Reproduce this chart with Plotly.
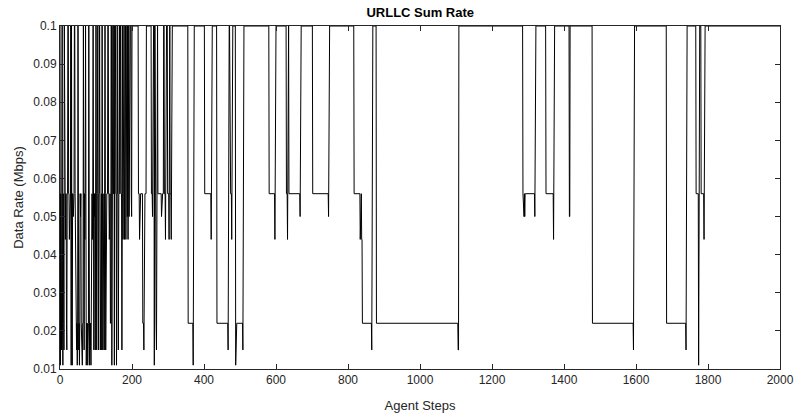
import numpy as np
import plotly.graph_objects as go

# Run-length description of the URLLC sum-rate trace (step where a new value starts, value in Mbps)
change_steps = [
    0, 1, 2, 3, 4, 5, 6, 7, 8, 9, 10, 11, 12, 13, 15, 16, 18, 19, 20, 22, 24, 26, 27, 30,
    31, 32, 33, 34, 35, 37, 38, 40, 42, 43, 44, 45, 46, 47, 48, 49, 50, 51, 52, 53, 54, 55,
    56, 57, 58, 59, 60, 61, 62, 63, 65, 66, 67, 68, 69, 70, 71, 72, 73, 74, 75, 76, 77, 78,
    80, 81, 82, 83, 84, 85, 86, 87, 88, 89, 90, 91, 92, 93, 94, 95, 96, 97, 98, 99, 100,
    101, 102, 103, 104, 105, 106, 107, 108, 110, 111, 112, 113, 114, 115, 116, 117, 118,
    119, 120, 121, 122, 123, 124, 125, 126, 127, 128, 129, 130, 133, 135, 137, 138, 140,
    142, 144, 145, 148, 150, 151, 152, 155, 157, 158, 160, 162, 163, 166, 168, 170, 172,
    173, 175, 176, 177, 178, 179, 180, 181, 182, 183, 184, 185, 186, 187, 188, 189, 190,
    192, 193, 195, 198, 199, 200, 218, 221, 222, 230, 233, 234, 235, 236, 240, 254, 257,
    258, 262, 263, 265, 268, 269, 272, 282, 283, 288, 290, 293, 294, 299, 303, 304, 306,
    309, 310,
    356, 370, 371, 402, 420, 421, 436, 467, 468, 472, 477, 478, 488, 489, 508, 509,
    581, 597, 598, 629, 632, 633, 636, 667, 668, 702, 746, 747,
    817, 834, 835, 836, 837, 838, 840, 866, 867, 879, 1106, 1108,
    1286, 1287, 1288, 1289, 1290, 1291, 1292, 1319, 1320, 1350, 1371, 1372, 1415, 1417,
    1479, 1593, 1594, 1685, 1739, 1740, 1767, 1774, 1775, 1781, 1789, 1790,
]
change_values = [
    0.1, 0.011, 0.056, 0.022, 0.015, 0.056, 0.1, 0.022, 0.011, 0.056, 0.022, 0.015, 0.1,
    0.056, 0.044, 0.056, 0.022, 0.015, 0.056, 0.1, 0.056, 0.044, 0.056, 0.1,
    0.011, 0.1, 0.022, 0.011, 0.056, 0.05, 0.056, 0.1, 0.056, 0.044, 0.056, 0.022, 0.015,
    0.022, 0.011, 0.022, 0.1, 0.022, 0.015, 0.022, 0.011, 0.022,
    0.056, 0.05, 0.056, 0.022, 0.015, 0.022, 0.011, 0.022, 0.1, 0.022, 0.015, 0.056, 0.044,
    0.056, 0.1, 0.022, 0.011, 0.022, 0.015, 0.022, 0.011, 0.022,
    0.1, 0.022, 0.011, 0.022, 0.015, 0.022, 0.011, 0.056, 0.015, 0.056, 0.044, 0.056, 0.1,
    0.056, 0.015, 0.056, 0.05, 0.056, 0.015, 0.056, 0.1,
    0.056, 0.015, 0.056, 0.05, 0.1, 0.056, 0.015, 0.056, 0.1, 0.056, 0.015, 0.056, 0.05,
    0.056, 0.015, 0.1, 0.056,
    0.015, 0.056, 0.05, 0.056, 0.015, 0.056, 0.1, 0.056, 0.015, 0.056, 0.05, 0.056, 0.1,
    0.056, 0.044, 0.056, 0.022,
    0.1, 0.011, 0.1, 0.056, 0.1, 0.011, 0.1, 0.056, 0.011, 0.1, 0.056, 0.015, 0.1, 0.056,
    0.1, 0.056, 0.015,
    0.1, 0.044, 0.1, 0.044, 0.1, 0.044, 0.1, 0.044, 0.1, 0.044, 0.1, 0.044, 0.1, 0.05, 0.1,
    0.044, 0.1,
    0.05, 0.1, 0.1, 0.056, 0.05, 0.1, 0.056, 0.044, 0.056, 0.022, 0.015, 0.056, 0.05, 0.056,
    0.1, 0.056, 0.05,
    0.1, 0.011, 0.1, 0.022, 0.015, 0.1, 0.056, 0.05, 0.056, 0.1, 0.056, 0.044, 0.1, 0.056,
    0.044, 0.1, 0.056,
    0.044, 0.1,
    0.022, 0.011, 0.1, 0.056, 0.044, 0.1, 0.022, 0.015, 0.1, 0.056, 0.044, 0.1, 0.011,
    0.022, 0.015, 0.1,
    0.056, 0.044, 0.1, 0.056, 0.044, 0.1, 0.056, 0.05, 0.1, 0.056, 0.05, 0.1,
    0.056, 0.044, 0.056, 0.044, 0.056, 0.044, 0.022, 0.015, 0.1, 0.022, 0.015, 0.1,
    0.056, 0.05, 0.056, 0.05, 0.056, 0.05, 0.056, 0.05, 0.1, 0.056, 0.044, 0.1, 0.05, 0.1,
    0.022, 0.015, 0.1, 0.022, 0.015, 0.1, 0.056, 0.011, 0.1, 0.056, 0.044, 0.1,
]
n_steps = 2000

x_tick_vals = [0, 200, 400, 600, 800, 1000, 1200, 1400, 1600, 1800, 2000]
y_tick_vals = [0.01, 0.02, 0.03, 0.04, 0.05, 0.06, 0.07, 0.08, 0.09, 0.1]
y_tick_text = ["0.01", "0.02", "0.03", "0.04", "0.05", "0.06", "0.07", "0.08", "0.09", "0.1"]

assert len(change_steps) == len(change_values)

steps = np.arange(0, n_steps + 1)
idx = np.searchsorted(np.array(change_steps), steps, side="right") - 1
rate = np.array(change_values)[idx]

axis_color = "#262626"
font = "Liberation Sans, Arial, Helvetica, sans-serif"

fig = go.Figure()
fig.add_trace(go.Scatter(x=steps, y=rate, mode="lines",
                         line=dict(color="black", width=1), showlegend=False,
                         hoverinfo="skip"))

common = dict(showline=True, linecolor=axis_color, linewidth=1, mirror="ticks",
              ticks="inside", ticklen=5, tickcolor=axis_color, tickwidth=1,
              showgrid=False, zeroline=False, automargin=False,
              tickfont=dict(family=font, size=12, color=axis_color))

fig.update_xaxes(range=[0, 2000], tickvals=x_tick_vals,
                 title=dict(text="Agent Steps", font=dict(family=font, size=13, color=axis_color),
                            standoff=14),
                 **common)
fig.update_yaxes(range=[0.01, 0.1], tickvals=y_tick_vals, ticktext=y_tick_text,
                 title=dict(text="Data Rate (Mbps)", font=dict(family=font, size=13, color=axis_color),
                            standoff=6),
                 **common)

fig.update_layout(
    width=795, height=418,
    margin=dict(l=60, r=15, t=26, b=49, autoexpand=False),
    paper_bgcolor="white", plot_bgcolor="white",
    title=dict(text="<b>URLLC Sum Rate</b>", x=0.5286, xanchor="center", y=0.97, yanchor="middle",
               font=dict(family=font, size=13, color="black")),
)

fig.write_html("out.html")
